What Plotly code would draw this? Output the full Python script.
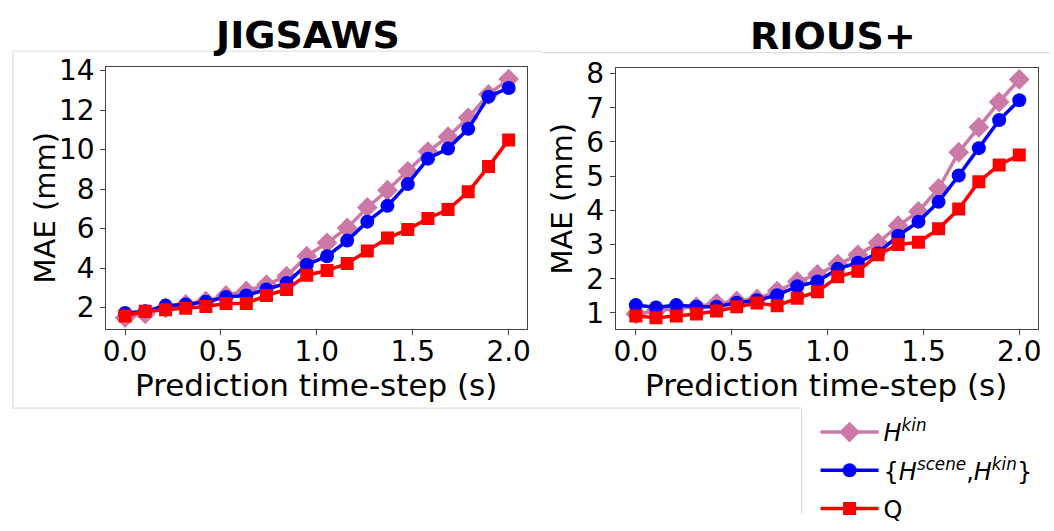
import plotly.graph_objects as go

# Prediction time-steps (s)
time_steps = [0.0, 0.105, 0.211, 0.316, 0.421, 0.526, 0.632, 0.737, 0.842, 0.947,
              1.053, 1.158, 1.263, 1.368, 1.474, 1.579, 1.684, 1.789, 1.895, 2.0]

# JIGSAWS MAE (mm)
jig_hkin = [1.49, 1.68, 1.97, 2.16, 2.33, 2.61, 2.84, 3.16, 3.59, 4.60,
            5.28, 6.03, 7.07, 7.94, 8.90, 9.90, 10.65, 11.61, 12.80, 13.57]
jig_scene_kin = [1.73, 1.81, 2.10, 2.16, 2.29, 2.53, 2.61, 2.92, 3.24, 4.17,
                 4.60, 5.39, 6.35, 7.15, 8.26, 9.54, 10.05, 11.05, 12.68, 13.12]
jig_q = [1.57, 1.81, 1.89, 1.97, 2.05, 2.21, 2.21, 2.61, 2.92, 3.64,
         3.88, 4.23, 4.87, 5.52, 5.95, 6.51, 6.96, 7.86, 9.14, 10.49]

# RIOUS+ MAE (mm)
rio_hkin = [0.97, 1.06, 1.14, 1.18, 1.28, 1.35, 1.41, 1.64, 1.92, 2.13,
            2.43, 2.70, 3.05, 3.55, 3.97, 4.64, 5.70, 6.43, 7.17, 7.83]
rio_scene_kin = [1.23, 1.16, 1.23, 1.18, 1.18, 1.30, 1.37, 1.52, 1.78, 1.92,
                 2.29, 2.47, 2.75, 3.26, 3.67, 4.25, 5.02, 5.82, 6.64, 7.22]
rio_q = [0.91, 0.86, 0.91, 0.97, 1.06, 1.18, 1.29, 1.21, 1.43, 1.62,
         2.06, 2.22, 2.70, 3.00, 3.07, 3.46, 4.04, 4.84, 5.33, 5.62]

series_names = ["<i>H</i><sup><i>kin</i></sup>",
                "{<i>H</i><sup><i>scene</i></sup>,<i>H</i><sup><i>kin</i></sup>}",
                "Q"]
groups = ["hkin", "scenekin", "q"]
colors = ["#CC79A7", "#0000FF", "#FF0000"]
symbols = ["diamond", "circle", "square"]
msizes = [16, 14, 13]

W, H = 1054, 531
def px(x):
    return x / W
def py(y):
    return 1 - y / H

FONT = "DejaVu Sans"
fig = go.Figure()

panels = [
    (["x", "y"], [jig_hkin, jig_scene_kin, jig_q], True),
    (["x2", "y2"], [rio_hkin, rio_scene_kin, rio_q], False),
]
for (xa, ya), data, show in panels:
    for name, g, vals, c, s, ms in zip(series_names, groups, data, colors, symbols, msizes):
        fig.add_trace(go.Scatter(
            x=time_steps, y=vals, mode="lines+markers", name=name,
            legendgroup=g, xaxis=xa, yaxis=ya, showlegend=show,
            line=dict(color=c, width=3.5),
            marker=dict(color=c, symbol=s, size=ms, line=dict(width=0)),
        ))

axis_common = dict(
    showgrid=False, zeroline=False, showline=True, mirror=True,
    linecolor="#444", linewidth=1.2, ticks="outside", ticklen=5, tickwidth=1.2,
    tickcolor="#444", tickfont=dict(family=FONT, size=28, color="black"),
)

fig.update_layout(
    width=W, height=H,
    margin=dict(l=0, r=0, t=0, b=0),
    paper_bgcolor="white", plot_bgcolor="white",
    font=dict(family=FONT, color="black"),
    xaxis=dict(domain=[px(104), px(527)], range=[-0.098, 2.093], ticklabelstandoff=-7,
               tickvals=[0, 0.5, 1.0, 1.5, 2.0], tickformat=".1f", anchor="y", **axis_common),
    yaxis=dict(domain=[py(335), py(58)], range=[0.93, 14.19],
               tickvals=[2, 4, 6, 8, 10, 12, 14], anchor="x", **axis_common),
    xaxis2=dict(domain=[px(617), px(1042)], range=[-0.104, 2.098], ticklabelstandoff=-7,
                tickvals=[0, 0.5, 1.0, 1.5, 2.0], tickformat=".1f", anchor="y2", **axis_common),
    yaxis2=dict(domain=[py(335), py(59)], range=[0.54, 8.17],
                tickvals=[1, 2, 3, 4, 5, 6, 7, 8], anchor="x2", **axis_common),
    legend=dict(x=px(818), y=py(421), xanchor="left", yanchor="top",
                font=dict(family=FONT, size=24, color="black"),
                bgcolor="rgba(0,0,0,0)", tracegroupgap=4, itemwidth=58,
                traceorder="grouped"),
    showlegend=True,
)

annotations = [
    dict(text="<b>JIGSAWS</b>", x=px(306), y=py(24), font=dict(family=FONT, size=38)),
    dict(text="<b>RIOUS+</b>", x=px(836), y=py(25), font=dict(family=FONT, size=38)),
    dict(text="MAE (mm)", x=px(42), y=py(207), textangle=-90, font=dict(family=FONT, size=29)),
    dict(text="MAE (mm)", x=px(563), y=py(197), textangle=-90, font=dict(family=FONT, size=29)),
    dict(text="Prediction time-step (s)", x=px(315), y=py(395), font=dict(family=FONT, size=31)),
    dict(text="Prediction time-step (s)", x=px(829), y=py(395), font=dict(family=FONT, size=31)),
]
for a in annotations:
    a.update(xref="paper", yref="paper", showarrow=False, xanchor="center", yanchor="middle")
    a["font"]["color"] = "black"
fig.update_layout(annotations=annotations)

gray = "#dcdcdc"
lines = [
    (10, 41.5, 543, 41.5),
    (10, 41.5, 10, 419),
    (10, 419, 804, 419),
    (543, 43, 1054, 43),
    (804, 419, 804, 531),
]
fig.update_layout(shapes=[
    dict(type="line", xref="paper", yref="paper",
         x0=px(a), y0=py(b), x1=px(c), y1=py(d),
         line=dict(color=gray, width=1.2))
    for a, b, c, d in lines
])

fig.write_html("out.html", config={"displayModeBar": False},
               post_script="document.body.style.margin='0px';")
